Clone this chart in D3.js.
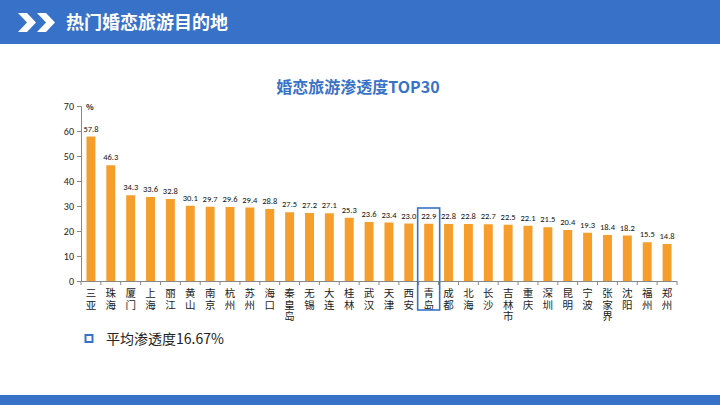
<!DOCTYPE html>
<html><head><meta charset="utf-8">
<script src="https://cdn.jsdelivr.net/npm/d3@7/dist/d3.min.js"></script>
<style>
html,body{margin:0;padding:0;background:#fff;}
svg{display:block;font-family:"Noto Sans CJK SC","Microsoft YaHei",sans-serif;}
</style></head><body>
<svg id="c" width="720" height="405"></svg>
<script>
const categories = ["三亚","珠海","厦门","上海","丽江","黄山","南京","杭州","苏州","海口","秦皇岛","无锡","大连","桂林","武汉","天津","西安","青岛","成都","北海","长沙","吉林市","重庆","深圳","昆明","宁波","张家界","沈阳","福州","郑州"];
const values = [57.8,46.3,34.3,33.6,32.8,30.1,29.7,29.6,29.4,28.8,27.5,27.2,27.1,25.3,23.6,23.4,23.0,22.9,22.8,22.8,22.7,22.5,22.1,21.5,20.4,19.3,18.4,18.2,15.5,14.8];
const yTicks = [0,10,20,30,40,50,60,70];
const highlight = "青岛";
const headerTitle = "热门婚恋旅游目的地";
const chartTitle = "婚恋旅游渗透度TOP30";
const legendText = "平均渗透度16.67%";

const blue = "#3872C8";
const svg = d3.select("#c");

// header bar
svg.append("rect").attr("x",0).attr("y",0).attr("width",720).attr("height",44).attr("fill",blue);
const chev = (x0) => `M${x0},13 L${x0+9},13 L${x0+18},22.5 L${x0+9},32 L${x0},32 L${x0+9},22.5 Z`;
svg.append("path").attr("d",chev(18)).attr("fill","#fff");
svg.append("path").attr("d",chev(37)).attr("fill","#fff");
svg.append("text").attr("x",66).attr("y",29).attr("fill","#fff")
  .attr("font-size",18).attr("font-weight","bold").text(headerTitle);
// bottom bar
svg.append("rect").attr("x",0).attr("y",395).attr("width",720).attr("height",10).attr("fill",blue);

// chart title
svg.append("text").attr("x",358).attr("y",93).attr("text-anchor","middle")
  .attr("fill",blue).attr("font-size",16).attr("font-weight","bold").text(chartTitle);

const x = d3.scaleBand().domain(categories).range([81,677]).paddingInner(0.55).paddingOuter(0.275);
const y = d3.scaleLinear().domain([0,70]).range([281,106]);

// y axis
const ya = svg.append("g").attr("transform","translate(81,0)")
  .call(d3.axisLeft(y).tickValues(yTicks).tickSize(4).tickPadding(3));
ya.selectAll("text").attr("font-size",10).attr("fill","#222").attr("font-family","Calibri,Carlito,'Liberation Sans',sans-serif");
ya.selectAll("line,path").attr("stroke","#888");

svg.append("text").attr("x",86).attr("y",110).attr("font-size",8).attr("font-weight","bold").attr("fill","#222").text("%");

// x axis line + ticks between categories
const step = x.step();
svg.append("line").attr("x1",81).attr("x2",677).attr("y1",281.5).attr("y2",281.5).attr("stroke","#888");
svg.append("g").selectAll("line").data(d3.range(categories.length+1)).join("line")
  .attr("x1",i=>81+i*step).attr("x2",i=>81+i*step).attr("y1",281).attr("y2",285).attr("stroke","#888");

// bars
svg.append("g").selectAll("rect").data(values).join("rect")
  .attr("x",(d,i)=>x(categories[i])).attr("width",x.bandwidth())
  .attr("y",d=>y(d)).attr("height",d=>y(0)-y(d)).attr("fill","#F59E2B");

// value labels
svg.append("g").selectAll("text").data(values).join("text")
  .attr("x",(d,i)=>x(categories[i])+x.bandwidth()/2).attr("y",d=>y(d)-5)
  .attr("text-anchor","middle").attr("font-size",8.5).attr("fill","#111")
  .attr("font-family","Calibri,Carlito,'Liberation Sans',sans-serif")
  .text(d=>d.toFixed(1));

// category labels vertical (one text element each, vertical writing)
svg.append("g").selectAll("text").data(categories).join("text")
  .attr("x",c=>x(c)+x.bandwidth()/2).attr("y",288)
  .attr("writing-mode","vertical-rl").style("writing-mode","vertical-rl")
  .attr("font-size",10.5).attr("fill","#222").attr("letter-spacing",1)
  .text(c=>c);

// highlight box
const hx = x(highlight)+x.bandwidth()/2;
svg.append("rect").attr("x",hx-11).attr("y",208).attr("width",22).attr("height",102)
  .attr("fill","none").attr("stroke",blue).attr("stroke-width",1.6);

// legend
svg.append("rect").attr("x",85.5).attr("y",335).attr("width",7).attr("height",7)
  .attr("fill","none").attr("stroke",blue).attr("stroke-width",2);
svg.append("text").attr("x",106).attr("y",344).attr("font-size",14).attr("fill","#222").text(legendText);
</script>
</body></html>
